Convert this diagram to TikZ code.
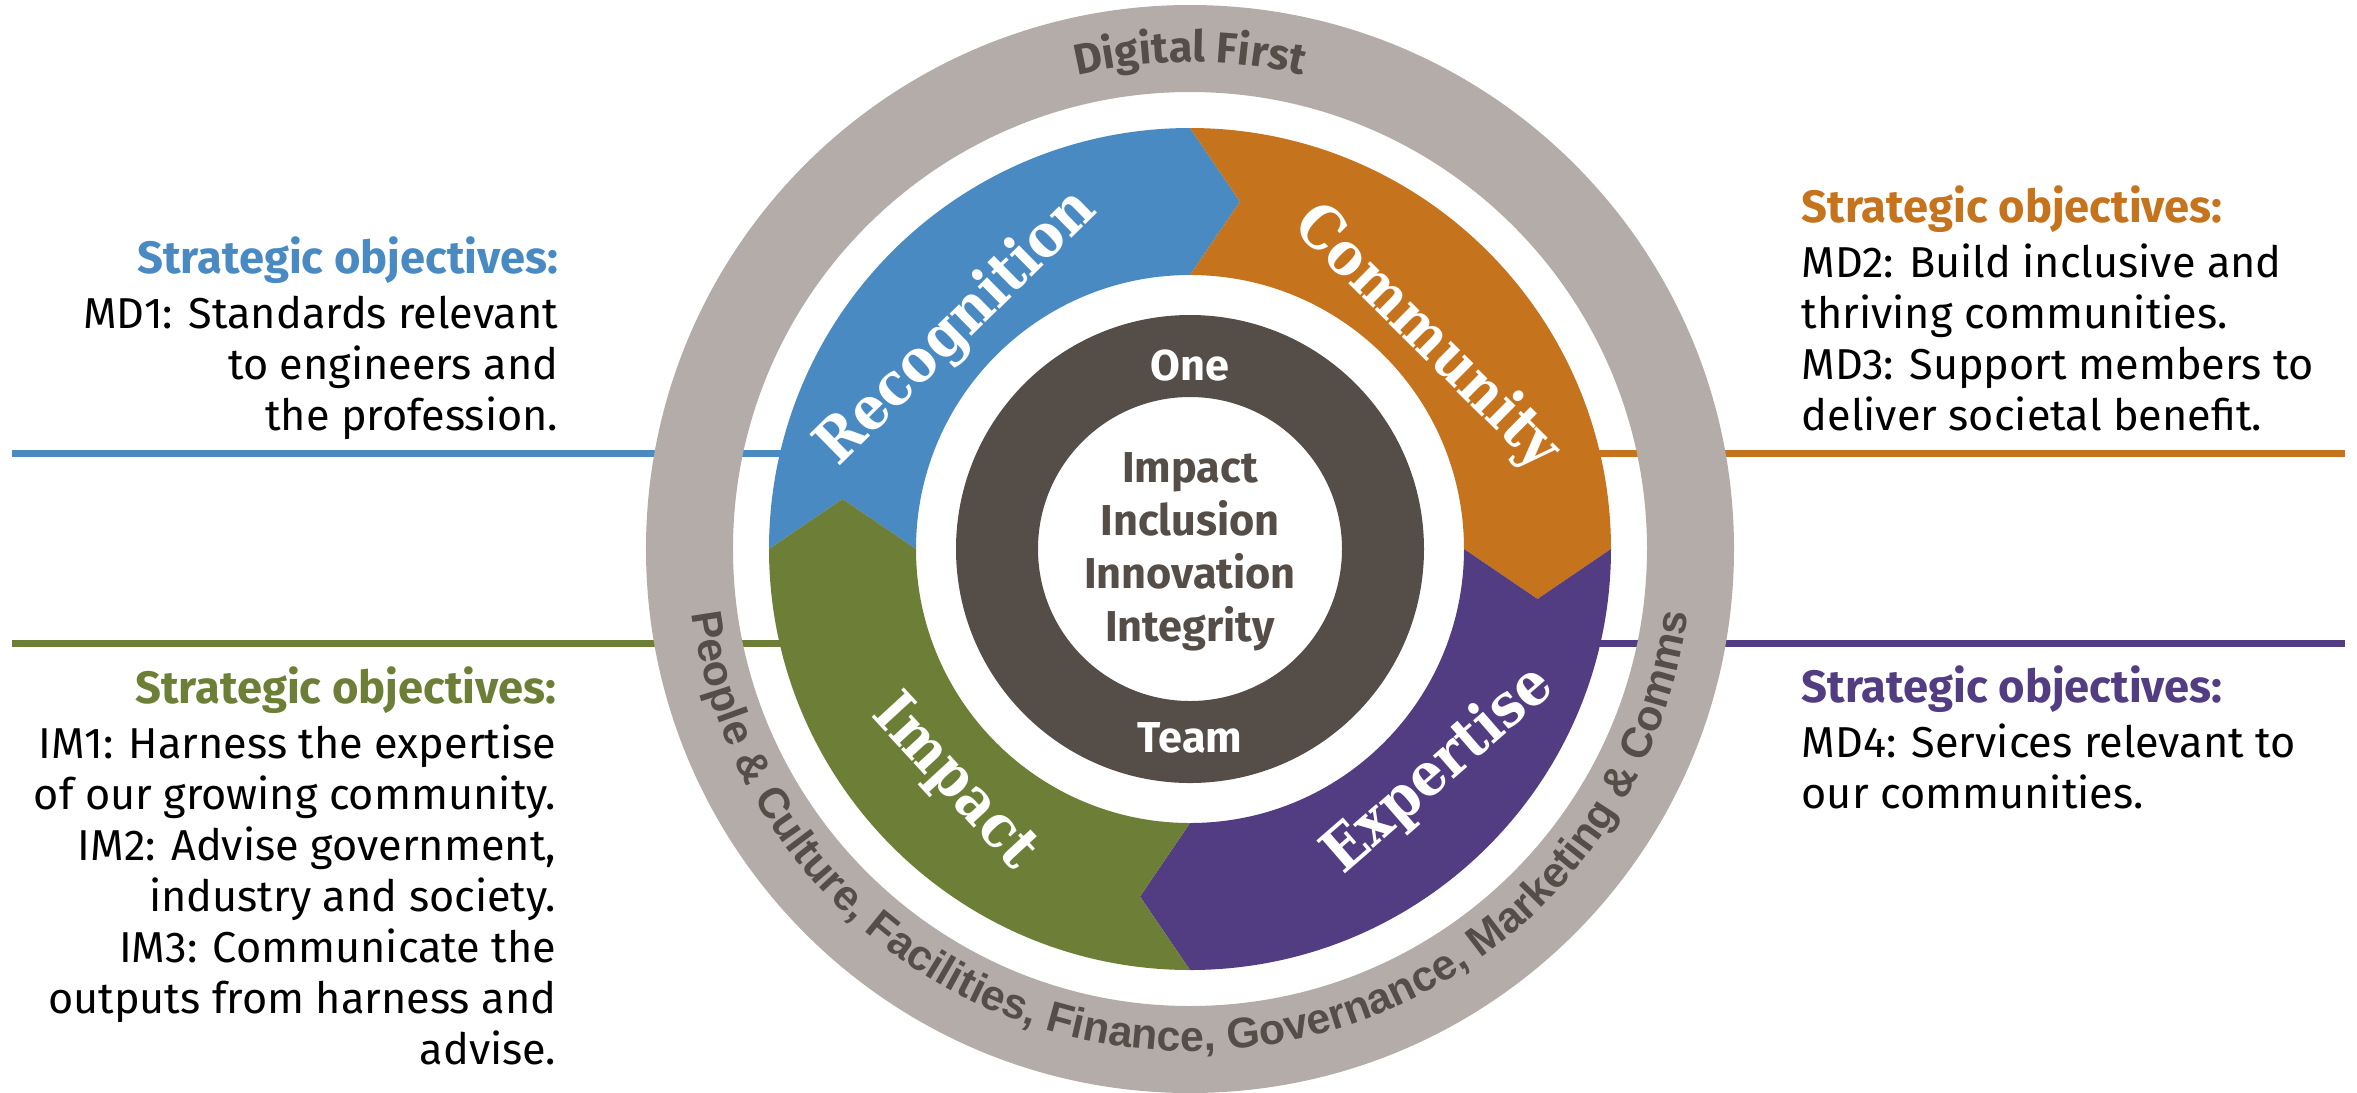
\documentclass[tikz,border=0pt]{standalone}
\usepackage{fontspec}
\setmainfont{Fira Sans}
\newfontfamily\slabfont{DejaVu Serif}[FakeStretch=0.9]
\newfontfamily\ringfont{Liberation Sans}
\usetikzlibrary{calc,decorations.text}

\definecolor{recblue}{HTML}{4A8AC2}
\definecolor{comorange}{HTML}{C5731C}
\definecolor{exppurple}{HTML}{523C82}
\definecolor{impgreen}{HTML}{6D7F36}
\definecolor{ringgrey}{HTML}{B3ACA8}
\definecolor{coredark}{HTML}{554D47}

\newcommand{\objsize}{\fontsize{12.3}{14.5}\selectfont}
\newcommand{\headsize}{\fontsize{12.9}{14.5}\selectfont\bfseries}

\begin{document}
\begin{tikzpicture}[x=0.1mm, y=0.1mm,
  objtext/.style={inner sep=0pt, font=\objsize},
  objhead/.style={inner sep=0pt, font=\headsize},
  valuetext/.style={inner sep=0pt, font=\objsize\bfseries, text=coredark},
  ringword/.style={inner sep=0pt, font=\objsize\bfseries, text=white},
  pillar/.style={inner sep=0pt, text=white, font=\slabfont\bfseries\fontsize{17}{17}\selectfont},
  rule/.style={line width=0.7mm}]

\useasboundingbox (-1190,-543) rectangle (1167,549);

% coloured rules behind the wheel
\draw[rule, recblue] (-1178,96) -- (-330,96);
\draw[rule, impgreen] (-1178,-94) -- (-330,-94);
\draw[rule, comorange] (330,96) -- (1155,96);
\draw[rule, exppurple] (330,-94) -- (1155,-94);

% outer grey ring
\fill[ringgrey, even odd rule] (0,0) circle[radius=544] (0,0) circle[radius=457];

% the four arrow segments
\foreach \s/\col in {180/recblue,90/comorange,0/exppurple,270/impgreen}{
  \pgfmathsetmacro{\e}{\s-90}
  \fill[\col] (\s:421) arc[start angle=\s, end angle=\e, radius=421]
    -- ($(\e:347.5)+(\e-90:50)$) -- (\e:274)
    arc[start angle=\e, end angle=\s, radius=274]
    -- ($(\s:347.5)+(\s-90:50)$) -- cycle;
}

% dark inner ring
\fill[coredark, even odd rule] (0,0) circle[radius=234] (0,0) circle[radius=152];

% pillar labels
\node[pillar, rotate=44.5] (reclabel) at (-233,221) {Recognition};
\node[pillar, rotate=-44.7] (comlabel) at (236,211) {Community};
\node[pillar, rotate=-47.4] (implabel) at (-236,-234) {Impact};
\node[pillar, rotate=41] (explabel) at (249,-221) {Expertise};

% text round the grey ring
\path[decorate, decoration={text along path, text align=center,
  text={|\objsize\bfseries\color{coredark}|Digital First}}]
  (120:487) arc[start angle=120, end angle=60, radius=487];
\path[decorate, decoration={text along path, text align=center,
  text={|\ringfont\bfseries\fontsize{12.2}{12.2}\selectfont\color{coredark}|People {\&} Culture, Facilities, Finance, Governance, Marketing {\&} Comms}}]
  (178:502) arc[start angle=178, end angle=362, radius=502];

% centre words
\node[ringword, anchor=base] (oneword) at (0,169) {One};
\node[ringword, anchor=base] (teamword) at (0,-203) {Team};
\foreach \w [count=\i] in {Impact,Inclusion,Innovation,Integrity}
  \node[valuetext, anchor=base] (value\i) at (0,{67-53*(\i-1)}) {\w};

% objectives, left
\node[objhead, anchor=base east, text=recblue] (rechead) at (-631,276) {Strategic objectives:};
\foreach \txt [count=\i] in {{MD1: Standards relevant},{to engineers and},{the profession.}}
  \node[objtext, anchor=base east] (rec\i) at (-631,{221-51*(\i-1)}) {\txt};

\node[objhead, anchor=base east, text=impgreen] (imphead) at (-633,-154) {Strategic objectives:};
\foreach \txt [count=\i] in {{IM1: Harness the expertise},{of our growing community.},
    {IM2: Advise government,},{industry and society.},{IM3: Communicate the},
    {outputs from harness and},{advise.}}
  \node[objtext, anchor=base east] (imp\i) at (-633,{-209-51*(\i-1)}) {\txt};

% objectives, right
\node[objhead, anchor=base west, text=comorange] (comhead) at (611,327) {Strategic objectives:};
\foreach \txt [count=\i] in {{MD2: Build inclusive and},{thriving communities.},
    {MD3: Support members to},{deliver societal benefit.}}
  \node[objtext, anchor=base west] (com\i) at (611,{272-51*(\i-1)}) {\txt};

\node[objhead, anchor=base west, text=exppurple] (exphead) at (611,-153) {Strategic objectives:};
\foreach \txt [count=\i] in {{MD4: Services relevant to},{our communities.}}
  \node[objtext, anchor=base west] (exp\i) at (611,{-208-51*(\i-1)}) {\txt};

\end{tikzpicture}
\end{document}
